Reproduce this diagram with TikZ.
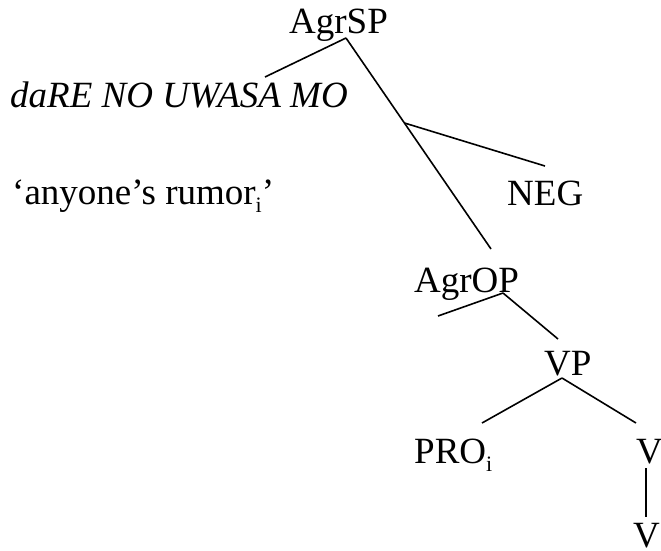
\documentclass[tikz,border=0pt]{standalone}
\usepackage{fontspec}
\setmainfont{Liberation Serif}
\newcommand{\subi}{\raisebox{-0.22em}{\fontsize{22}{22}\selectfont i}}
\begin{document}
\begin{tikzpicture}[x=1pt,y=-1pt,
  lbl/.style={inner sep=0pt,anchor=base west,font=\fontsize{37}{40}\selectfont},
  edge/.style={line width=1.6pt,line cap=butt}]
\useasboundingbox (0,0) rectangle (661,550);
% labels
\node[lbl] (agrsp) at (289,33) {AgrSP};
\node[lbl] (dare) at (10,107) {\itshape daRE NO UWASA MO};
\node[lbl] (rumor) at (12,204) {‘anyone’s rumor\subi’};
\node[lbl] (neg) at (507,205) {NEG};
\node[lbl] (agrop) at (414,292) {AgrOP};
\node[lbl] (vp) at (544,375) {VP};
\node[lbl] (pro) at (414,463) {PRO\subi};
\node[lbl] (vbar) at (636,463) {V’};
\node[lbl] (v) at (633,547) {V};
% branch points
\coordinate (a1) at (346,38);
\coordinate (a1l) at (265,77);
\coordinate (a1r) at (491,249);
\coordinate (nb) at (404.5,123);
\coordinate (nbe) at (545,166);
\coordinate (a2) at (503,293);
\coordinate (a2l) at (438,316);
\coordinate (a2r) at (558,339);
\coordinate (a3) at (562,378);
\coordinate (a3l) at (482,423);
\coordinate (a3r) at (636,423);
\coordinate (s1) at (646,468);
\coordinate (s2) at (646,517);
% edges
\draw[edge] (a1) -- (a1l);
\draw[edge] (a1) -- (a1r);
\draw[edge] (nb) -- (nbe);
\draw[edge] (a2) -- (a2l);
\draw[edge] (a2) -- (a2r);
\draw[edge] (a3) -- (a3l);
\draw[edge] (a3) -- (a3r);
\draw[edge] (s1) -- (s2);
\end{tikzpicture}
\end{document}
